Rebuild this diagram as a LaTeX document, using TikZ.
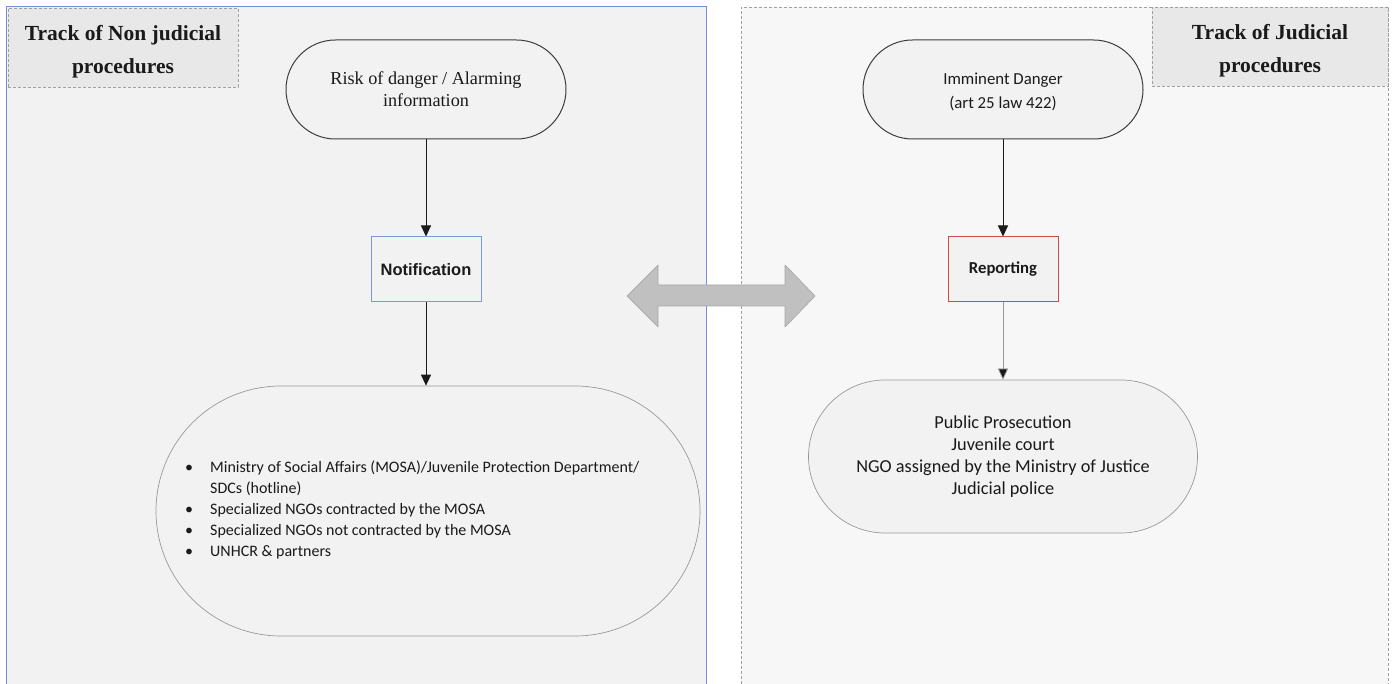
\documentclass[tikz,border=0pt]{standalone}
\usepackage{fontspec}
\setmainfont{Liberation Serif}
\newfontfamily\calib{Carlito}
\newfontfamily\arial{Liberation Sans}
\usetikzlibrary{arrows.meta}
\definecolor{panelL}{HTML}{F2F2F2}
\definecolor{panelR}{HTML}{F7F7F7}
\definecolor{titlefill}{HTML}{E8E8E8}
\definecolor{nodefill}{HTML}{F2F2F2}
\definecolor{ink}{HTML}{1A1A1A}
\definecolor{panelblue}{HTML}{6F8FD8}
\definecolor{boxblue}{HTML}{7C98E0}
\definecolor{boxred}{HTML}{D04A4A}
\definecolor{dashgray}{HTML}{A0A0A0}
\definecolor{arrowgray}{HTML}{C0C0C0}
\definecolor{arrowedge}{HTML}{A8A8A8}
\tikzset{
  titlebox/.style={draw=dashgray, densely dashed, fill=titlefill, line width=0.8pt,
    minimum width=230pt, minimum height=79pt, align=center, inner sep=0pt,
    font=\fontsize{21.5}{33}\selectfont\bfseries, text=ink},
  stadium/.style={draw=ink!85, fill=nodefill, line width=1pt, inner sep=0pt, align=center, text=ink},
  softstadium/.style={draw=gray!80, fill=nodefill, line width=0.7pt, inner sep=0pt, align=center, text=ink},
  stepbox/.style={fill=nodefill, line width=1pt, minimum width=110pt, minimum height=65pt, inner sep=0pt, text=ink},
  flow/.style={draw=ink, line width=1pt, -{Triangle[length=11pt,width=10pt]}},
  softflow/.style={draw=gray!80, line width=0.7pt, -{Triangle[length=11pt,width=10pt,fill=ink]}}
}
\begin{document}
\begin{tikzpicture}[x=1pt,y=-1pt]
\useasboundingbox (0,0) rectangle (1395,684);
\fill[white] (0,0) rectangle (1395,684);
% left panel
\fill[panelL] (6,7) rectangle (706,684);
\draw[panelblue, line width=1pt] (6,684) -- (6,7) -- (706,7) -- (706,684);
% right panel
\fill[panelR] (741,7) rectangle (1388,684);
\draw[dashgray, densely dashed, line width=0.8pt] (741,684) -- (741,7) -- (1388,7) -- (1388,684);
% panel titles (the strut lowers the two lines a little inside the box)
\node[titlebox] (tL) at (123,47.5) {\rule{0pt}{24pt}Track of Non judicial\\procedures};
\node[titlebox, minimum width=236pt] (tR) at (1270,46.5) {\rule{0pt}{24pt}Track of Judicial\\procedures};
% left track
\node[stadium, minimum width=280pt, minimum height=99pt, rounded corners=49.5pt,
      font=\fontsize{18.2}{22}\selectfont] (risk) at (426,89.5)
      {Risk of danger / Alarming\\information};
\node[stepbox, draw=boxblue, font=\arial\bfseries\fontsize{16.5}{18}\selectfont] (notif) at (426,269.5) {Notification};
\node[softstadium, minimum width=544pt, minimum height=250pt, rounded corners=125pt] (actors) at (428,511) {};
\node[anchor=west, inner sep=0pt, text=ink, font=\calib\fontsize{16}{21}\selectfont] (list) at (185,510)
  {\begin{tabular}{@{}p{25pt}@{}l@{}}
   \textbullet & Ministry of Social Affairs (MOSA)/Juvenile Protection Department/\\
   & SDCs (hotline)\\
   \textbullet & Specialized NGOs contracted by the MOSA\\
   \textbullet & Specialized NGOs not contracted by the MOSA\\
   \textbullet & UNHCR \& partners
   \end{tabular}};
\draw[flow] (risk.south) -- (notif.north);
\draw[flow] (notif.south) -- (notif.south |- actors.north);
% right track
\node[stadium, minimum width=280pt, minimum height=99pt, rounded corners=49.5pt,
      font=\calib\fontsize{16.8}{24}\selectfont] (danger) at (1003,89.5)
      {\rule{0pt}{16pt}Imminent Danger\\(art 25 law 422)};
\node[stepbox, draw=boxred, font=\calib\bfseries\fontsize{16.7}{18}\selectfont] (report) at (1003,269.5) {Reporting};
\node[softstadium, minimum width=389pt, minimum height=153pt, rounded corners=76.5pt,
      font=\calib\fontsize{18.3}{22}\selectfont] (bodies) at (1003,456.5)
      {Public Prosecution\\Juvenile court\\NGO assigned by the Ministry of Justice\\Judicial police};
\draw[flow] (danger.south) -- (report.north);
\draw[softflow] (report.south) -- (bodies.north);
% link between the two tracks
\draw[arrowedge, fill=arrowgray, line width=0.7pt, line join=round]
  (627,296) -- (658,265) -- (658,285) -- (785,285) -- (785,265) -- (815,296)
  -- (785,327) -- (785,306) -- (658,306) -- (658,327) -- cycle;
\end{tikzpicture}
\end{document}
